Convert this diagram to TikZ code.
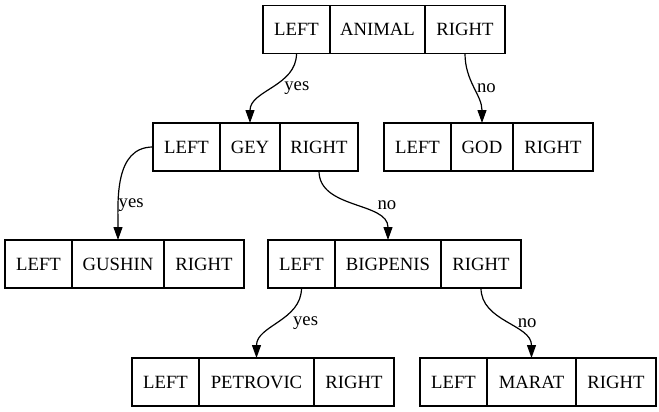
\documentclass[tikz,border=0pt]{standalone}
\usepackage{fontspec}
\setmainfont{Liberation Serif}
\newfontfamily\recfont{Liberation Serif}
\usetikzlibrary{arrows.meta}
\usetikzlibrary{positioning}
\tikzset{>={Triangle[length=13pt,width=9pt]}}

\begin{document}
\begin{tikzpicture}[x=1pt,y=1pt,font=\recfont\fontsize{18.7pt}{22pt}\selectfont,
		field/.style={draw, line width=1.2pt, inner sep=0pt, outer sep=0pt, minimum height=48pt},
		lfield/.style={field, minimum width=67pt},
		rfield/.style={field, minimum width=80pt},
		lbl/.style={inner sep=0pt},
		node distance=0pt, auto]
		\useasboundingbox (0,0) rectangle (659,-412);
		% records
		\node[field, minimum width=95pt] (animal) at (377.5,-29.5) {ANIMAL};
		\node[lfield] (animal-l) [left=of animal] {LEFT};
		\node[rfield] (animal-r) [right=of animal] {RIGHT};
		\node[field, minimum width=60pt] (gey) at (250,-147) {GEY};
		\node[lfield] (gey-l) [left=of gey] {LEFT};
		\node[rfield, minimum width=78pt] (gey-r) [right=of gey] {RIGHT};
		\node[field, minimum width=62pt] (god) at (482,-147) {GOD};
		\node[lfield] (god-l) [left=of god] {LEFT};
		\node[rfield] (god-r) [right=of god] {RIGHT};
		\node[field, minimum width=92pt] (gushin) at (118,-264) {GUSHIN};
		\node[lfield] (gushin-l) [left=of gushin] {LEFT};
		\node[rfield] (gushin-r) [right=of gushin] {RIGHT};
		\node[field, minimum width=106pt] (bigpenis) at (388,-264) {BIGPENIS};
		\node[lfield] (bigpenis-l) [left=of bigpenis] {LEFT};
		\node[rfield] (bigpenis-r) [right=of bigpenis] {RIGHT};
		\node[field, minimum width=115pt] (petrovic) at (256.5,-382) {PETROVIC};
		\node[lfield] (petrovic-l) [left=of petrovic] {LEFT};
		\node[rfield] (petrovic-r) [right=of petrovic] {RIGHT};
		\node[field, minimum width=89pt] (marat) at (531.5,-382) {MARAT};
		\node[lfield] (marat-l) [left=of marat] {LEFT};
		\node[rfield] (marat-r) [right=of marat] {RIGHT};
		% links
		\path[->, line width=1.2pt]
			(animal-l.south) edge[out=-90, in=90] node[lbl, right=10.5pt] (l1) {yes} (gey.north)
			(animal-r.south) edge[out=-90, in=90] node[lbl, right=3pt] (l2) {no} (god.north)
			(gey-l.west) edge[out=180, in=90] node[lbl, pos=0.72, right=0pt] (l3) {yes} (gushin.north)
			(gey-r.south) edge[out=-90, in=90] node[lbl, right=23.5pt] (l4) {no} (bigpenis.north)
			(bigpenis-l.south) edge[out=-90, in=90] node[lbl, right=13.5pt] (l5) {yes} (petrovic.north)
			(bigpenis-r.south) edge[out=-90, in=90] node[lbl, right=11pt] (l6) {no} (marat.north);
	\end{tikzpicture}
\end{document}
